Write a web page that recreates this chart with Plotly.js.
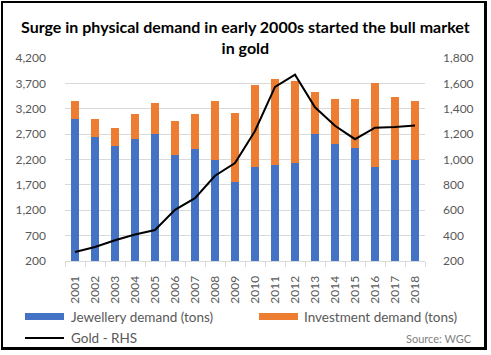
<!DOCTYPE html>
<html>
<head>
<meta charset="utf-8">
<script src="https://cdn.plot.ly/plotly-3.0.1.min.js"></script>
<style>
  html, body { margin: 0; padding: 0; background: #fff; }
  #wrap { position: relative; width: 491px; height: 355px; }
  #chart { position: absolute; left: 0; top: 0; width: 491px; height: 355px; }
  #frame { position: absolute; left: 1px; top: 1px; width: 481px; height: 344px;
           border-style: solid; border-color: #000; border-width: 2px 3px 3px 2px; pointer-events: none; }
</style>
</head>
<body>
<div id="wrap"><div id="chart"></div><div id="frame"></div></div>
<script>
const years = ['2001','2002','2003','2004','2005','2006','2007','2008','2009','2010','2011','2012','2013','2014','2015','2016','2017','2018'];
const jewellery = [3000, 2645, 2465, 2605, 2705, 2290, 2405, 2190, 1755, 2050, 2090, 2130, 2700, 2505, 2425, 2050, 2190, 2190];
const investment = [355, 355, 355, 495, 610, 670, 690, 1160, 1360, 1615, 1695, 1615, 830, 890, 965, 1655, 1240, 1165];
const gold = [271, 310, 363, 409, 444, 603, 695, 872, 972, 1225, 1572, 1669, 1411, 1266, 1160, 1251, 1257, 1268];

const FONT = 'Lato, "Open Sans", sans-serif';
const GREY = '#595959';

const traces = [
  { type: 'bar', x: years, y: jewellery, name: 'Jewellery demand (tons)', marker: { color: '#4472C4' }, yaxis: 'y' },
  { type: 'bar', x: years, y: investment, name: 'Investment demand (tons)', marker: { color: '#ED7D31' }, yaxis: 'y' },
  { type: 'scatter', mode: 'lines', x: years, y: gold, name: 'Gold - RHS', line: { color: '#000', width: 2 }, yaxis: 'y2' }
];

const P = (px) => (px - 65) / 360;
const Q = (py) => (261 - py) / 203;

const layout = {
  width: 491, height: 355,
  margin: { l: 65, r: 66, t: 58, b: 94 },
  paper_bgcolor: '#fff', plot_bgcolor: '#fff',
  barmode: 'stack', bargap: 0.6,
  showlegend: false,
  font: { family: FONT, color: GREY, size: 12 },
  xaxis: {
    type: 'category', tickangle: -90, showgrid: false,
    showline: true, linecolor: '#d9d9d9', linewidth: 1,
    ticks: 'outside', tickson: 'boundaries', ticklen: 5, tickcolor: '#d9d9d9',
    ticklabelstandoff: 9,
    tickfont: { family: FONT, size: 12, color: GREY }
  },
  yaxis: {
    range: [200, 4200], tick0: 200, dtick: 500, tickformat: ',d',
    showgrid: true, gridcolor: '#d9d9d9', zeroline: false, showline: false,
    ticklabelstandoff: 18,
    tickfont: { family: FONT, size: 12, color: GREY }
  },
  yaxis2: {
    range: [200, 1800], tick0: 200, dtick: 200, tickformat: ',d',
    overlaying: 'y', side: 'right', showgrid: false, zeroline: false, showline: false,
    ticklabelstandoff: 17,
    tickfont: { family: FONT, size: 12, color: GREY }
  },
  shapes: [
    { type: 'rect', xref: 'paper', yref: 'paper', x0: P(25), x1: P(64), y0: Q(313), y1: Q(320), fillcolor: '#4472C4', line: { width: 0 } },
    { type: 'rect', xref: 'paper', yref: 'paper', x0: P(259), x1: P(298), y0: Q(313), y1: Q(320), fillcolor: '#ED7D31', line: { width: 0 } },
    { type: 'line', xref: 'paper', yref: 'paper', x0: P(25), x1: P(64), y0: Q(338), y1: Q(338), line: { color: '#000', width: 2 } }
  ],
  annotations: [
    { xref: 'paper', yref: 'paper', x: P(245), y: Q(37), xanchor: 'center', yanchor: 'middle', showarrow: false,
      text: '<b>Surge in physical demand in early 2000s started the bull market<br>in gold</b>',
      font: { family: FONT, size: 16, color: '#000' } },
    { xref: 'paper', yref: 'paper', x: P(69), y: Q(316.5), xanchor: 'left', yanchor: 'middle', showarrow: false,
      text: 'Jewellery demand (tons)', font: { family: FONT, size: 13.5, color: GREY } },
    { xref: 'paper', yref: 'paper', x: P(302), y: Q(316.5), xanchor: 'left', yanchor: 'middle', showarrow: false,
      text: 'Investment demand (tons)', font: { family: FONT, size: 13.5, color: GREY } },
    { xref: 'paper', yref: 'paper', x: P(69), y: Q(338), xanchor: 'left', yanchor: 'middle', showarrow: false,
      text: 'Gold - RHS', font: { family: FONT, size: 13.5, color: GREY } },
    { xref: 'paper', yref: 'paper', x: P(474), y: Q(338), xanchor: 'right', yanchor: 'middle', showarrow: false,
      text: 'Source: WGC', font: { family: FONT, size: 11, color: '#7f7f7f' } }
  ]
};

Plotly.newPlot('chart', traces, layout, { staticPlot: true, displayModeBar: false });
</script>
</body>
</html>
